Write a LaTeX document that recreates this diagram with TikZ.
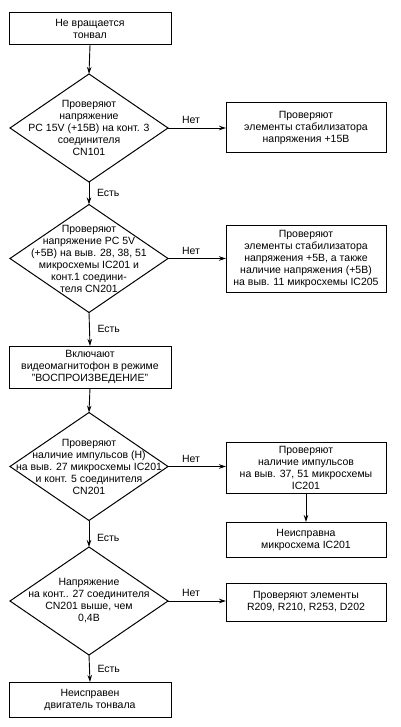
\documentclass[tikz,border=0pt]{standalone}
\usepackage{fontspec}
\setmainfont{Liberation Sans}
\usetikzlibrary{arrows.meta,shapes.geometric}
\begin{document}
\begin{tikzpicture}[x=1pt,y=-1pt,
  every node/.style={font=\fontsize{10.5}{12}\selectfont, align=center, inner sep=0pt, outer sep=0pt},
  box/.style={draw, line width=1pt, minimum width=160pt},
  lbox/.style={box, minimum width=162pt},
  dia/.style={draw, line width=1pt, diamond, minimum width=158pt, minimum height=108pt},
  arr/.style={line width=0.9pt, -{Stealth[length=7pt,width=4.5pt]}},
  lab/.style={font=\fontsize{10.5}{12}\selectfont}
]
\useasboundingbox (0,0) rectangle (400,727);

% left column
\node[lbox, minimum height=32pt] (b1) at (90,29) {Не вращается\\тонвал};
\node[dia] (d1) at (89,128) {};
\node (d1t) at (89,128) {Проверяют\\напряжение\\PC 15V (+15B) на конт. 3\\соединителя\\CN101};
\node[dia] (d2) at (89,258.5) {};
\node (d2t) at (89,258.5) {Проверяют\\напряжение PC 5V\\(+5B) на выв. 28, 38, 51\\микросхемы IC201 и\\конт.1 соедини-\\теля CN201};
\node[lbox, minimum height=42pt] (b3) at (90,367) {Включают\\видеомагнитофон в режиме\\"ВОСПРОИЗВЕДЕНИЕ"};
\node[dia] (d3) at (89,466.5) {};
\node (d3t) at (89,466.5) {Проверяют\\наличие импульсов (Н)\\на выв. 27 микросхемы IC201\\и конт. 5 соединителя\\CN201};
\node[dia] (d4) at (89,601) {};
\node (d4t) at (89,601) {Напряжение\\на конт.. 27 соединителя\\CN201 выше, чем\\0,4В};
\node[lbox, minimum height=35pt] (b6) at (90,699.5) {Неисправен\\двигатель тонвала};

% right column
\node[box, minimum height=50pt] (r1) at (306,128) {Проверяют\\элементы стабилизатора\\напряжения +15В};
\node[box, minimum height=67pt] (r2) at (306,258.5) {Проверяют\\элементы стабилизатора\\напряжения +5В, а также\\наличие напряжения (+5В)\\на выв. 11 микросхемы IC205};
\node[box, minimum height=51pt] (r3) at (306,467.5) {Проверяют\\наличие импульсов\\на выв. 37, 51 микросхемы\\IC201};
\node[box, minimum height=35pt] (r4) at (306,539.5) {Неисправна\\микросхема IC201};
\node[box, minimum height=38pt] (r5) at (306,602) {Проверяют элементы\\R209, R210, R253, D202};

% vertical connectors
\draw[arr] (b1.south) -- (d1.north);
\draw[arr] (d1.south) -- node[lab, right=8pt] {Есть} (d2.north);
\draw[arr] (d2.south) -- node[lab, right=8pt] {Есть} (b3.north);
\draw[arr] (b3.south) -- (d3.north);
\draw[arr] (d3.south) -- node[lab, right=8pt, yshift=-4pt] {Есть} (d4.north);
\draw[arr] (d4.south) -- node[lab, right=8pt] {Есть} (b6.north);
\draw[arr] (r3.south) -- (r4.north);

% horizontal connectors
\draw[arr] (d1.east) -- node[lab, above=4pt, xshift=-6pt] {Нет} (r1.west |- d1.east);
\draw[arr] (d2.east) -- node[lab, above=4pt, xshift=-6pt] {Нет} (r2.west |- d2.east);
\draw[arr] (d3.east) -- node[lab, above=4pt, xshift=-6pt] {Нет} (r3.west |- d3.east);
\draw[arr] (d4.east) -- node[lab, above=4pt, xshift=-6pt] {Нет} (r5.west |- d4.east);
\end{tikzpicture}
\end{document}
